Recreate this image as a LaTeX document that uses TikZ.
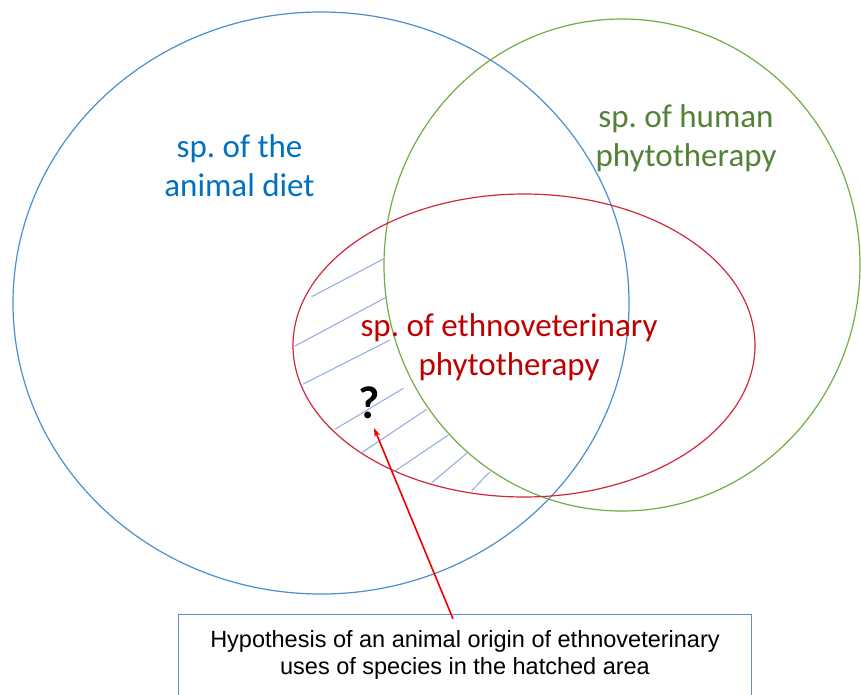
\documentclass[tikz,border=0pt]{standalone}
\usepackage{fontspec}
\setmainfont{Carlito}
\newfontfamily\arialf{Liberation Sans}
\usetikzlibrary{shapes.geometric,arrows.meta}
\frenchspacing
\definecolor{blueline}{HTML}{4A8FCC}
\definecolor{bluetext}{HTML}{0070C0}
\definecolor{greenline}{HTML}{70AD47}
\definecolor{greentext}{HTML}{538135}
\definecolor{redline}{HTML}{D0283C}
\definecolor{redtext}{HTML}{C00000}
\definecolor{arrowred}{HTML}{F00000}
\definecolor{hatchblue}{HTML}{8FAADC}
\definecolor{boxblue}{HTML}{5B8FCB}
\tikzset{
  setshape/.style={ellipse, inner sep=0pt, line width=1.2pt},
  setlabel/.style={align=center, font=\fontsize{33}{39}\selectfont},
  hatch/.style={draw=hatchblue, line width=1pt},
  notebox/.style={align=center, inner sep=0pt,
    font=\arialf\fontsize{23.5}{26.5}\selectfont},
  boxframe/.style={draw=boxblue, line width=1.1pt},
  pointer/.style={draw=arrowred, line width=1.6pt, -{Stealth[length=9pt,width=6pt]}}
}
\begin{document}
\begin{tikzpicture}[x=1pt,y=-1pt]
\useasboundingbox (0,0) rectangle (861,694);
% sets
\node[setshape, draw=blueline, minimum width=616pt, minimum height=582pt] (diet) at (321,303) {};
\node[setshape, draw=greenline, minimum width=476pt, minimum height=492pt] (human) at (622,265) {};
\node[setshape, draw=redline, minimum width=462pt, minimum height=303pt] (ethno) at (524,345.5) {};
% hatching
\draw[hatch] (311.7,296.7) -- (383.3,259);
\draw[hatch] (295,346) -- (387.3,296.7);
\draw[hatch] (303.3,384) -- (390,340);
\draw[hatch] (335,429.3) -- (403.3,388.3);
\draw[hatch] (361.7,452.7) -- (426.7,409.3);
\draw[hatch] (395,471) -- (448.3,435);
\draw[hatch] (431.7,482.7) -- (466.7,453.3);
\draw[hatch] (471.7,490.7) -- (490,471.7);
% labels
\node[setlabel, text=bluetext] (dietlab) at (239.5,166) {sp. of the\\animal diet};
\node[setlabel, text=greentext] (humanlab) at (686,138) {sp. of human\\phytotherapy};
\node[setlabel, text=redtext] (ethnolab) at (509,347) {sp. of ethnoveterinary\\phytotherapy};
% question mark
\node[font=\bfseries\fontsize{46}{46}\selectfont, text=black, inner sep=0pt] (q) at (369,403) {?};
\coordinate (qtip) at (374,428);
% note box
\node[notebox, minimum width=572pt, minimum height=80pt] (hyp) at (465,655)
  {Hypothesis of an animal origin of ethnoveterinary\\uses of species in the hatched area};
\draw[boxframe] (hyp.north west) rectangle ([yshift=-15pt]hyp.south east);
\coordinate (ax) at (453,0);
\coordinate (tail) at ([yshift=-4pt]hyp.north -| ax);
\draw[pointer] (tail) -- (qtip);
\end{tikzpicture}
\end{document}
